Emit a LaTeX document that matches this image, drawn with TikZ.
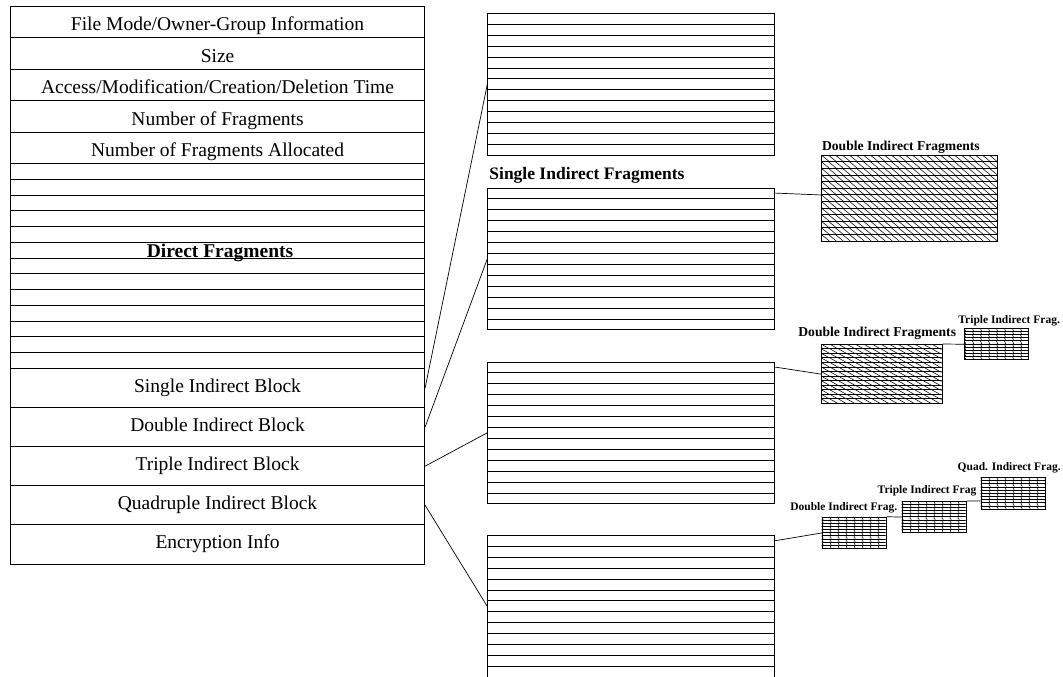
\documentclass[tikz,border=0pt]{standalone}
\usepackage{fontspec}
\setmainfont{Liberation Serif}
\usetikzlibrary{calc}

% rows x spacing hatching inside a fragment box given by its numbers
% #1,#2 top-left; #3,#4 width,height; #5 rows; #6 column step; #7 slant
\newcommand{\hatchgrid}[7]{%
  \begin{scope}
    \clip (#1,#2) rectangle ++(#3,#4);
    \foreach \r in {1,...,#5}{
      \pgfmathsetmacro{\yt}{#2+(\r-1)*#4/#5}
      \pgfmathsetmacro{\yb}{#2+\r*#4/#5}
      \draw[hatch] (#1,\yb) -- ++(#3,0);
      \foreach \xx in {-#6,0,...,#3}{
        \draw[hatch] ({#1+\xx},\yt) -- ({#1+\xx+#7},\yb);
      }
    }
  \end{scope}}

\begin{document}
\begin{tikzpicture}[x=1pt,y=-1pt,
  line width=0.8pt,
  cell/.style={draw, rectangle, inner sep=0pt, minimum width=414.3pt, anchor=north west},
  hdrcell/.style={cell, minimum height=31.5pt, font=\fontsize{19.5}{20}\selectfont,
                  text height=18pt, text depth=0pt},
  dircell/.style={cell, minimum height=15.75pt},
  ptrcell/.style={cell, minimum height=39.1pt, font=\fontsize{19.5}{20}\selectfont,
                  text height=13pt, text depth=4.5pt},
  blk/.style={draw, rectangle, inner sep=0pt, minimum width=287pt, minimum height=141.3pt,
              anchor=north west, line width=0.9pt},
  fragbox/.style={draw, rectangle, inner sep=0pt, anchor=north west, line width=0.9pt},
  hatch/.style={line width=0.55pt},
  link/.style={line width=0.7pt},
  biglbl/.style={anchor=base west, inner sep=0pt, font=\bfseries\fontsize{17.5}{18}\selectfont},
  midlbl/.style={anchor=base west, inner sep=0pt, font=\bfseries\fontsize{13.6}{14}\selectfont},
  smalllbl/.style={anchor=base west, inner sep=0pt, font=\bfseries\fontsize{11.5}{12}\selectfont}]

\useasboundingbox (0,0) rectangle (1063,677);

% ---------------- inode table ----------------
\node[hdrcell] (mode)   at (10,5.7)   {File Mode/Owner-Group Information};
\node[hdrcell] (size)   at (10,37.2)  {Size};
\node[hdrcell] (time)   at (10,68.7)  {Access/Modification/Creation/Deletion Time};
\node[hdrcell] (nfrag)  at (10,100.2) {Number of Fragments};
\node[hdrcell] (nalloc) at (10,131.7) {Number of Fragments Allocated};
\foreach \k in {0,...,12}
  \node[dircell] (d\k) at (10,{163.2+15.75*\k}) {};
\node[anchor=base, inner sep=0pt, font=\bfseries\fontsize{19.5}{20}\selectfont]
  (dlabel) at (220,257.5) {Direct Fragments};
\node[ptrcell] (single) at (10,368.0) {Single Indirect Block};
\node[ptrcell] (double) at (10,407.1) {Double Indirect Block};
\node[ptrcell] (triple) at (10,446.2) {Triple Indirect Block};
\node[ptrcell] (quad)   at (10,485.3) {Quadruple Indirect Block};
\node[ptrcell] (crypt)  at (10,524.4) {Encryption Info};

% ---------------- indirect blocks ----------------
\node[blk] (b1) at (487.3,13.3)  {};
\node[blk] (b2) at (487.3,187.7) {};
\node[blk] (b3) at (487.3,361.7) {};
\node[blk] (b4) at (487.3,535.3) {};
\foreach \b in {b1,b2,b3,b4}
  \foreach \k in {1,...,12}
    \draw[line width=0.9pt] ($(\b.north west)!\k/13!(\b.south west)$) --
                            ($(\b.north east)!\k/13!(\b.south east)$);
\node[biglbl] (l2) at (489,179) {Single Indirect Fragments};

% ---------------- fragment boxes ----------------
\hatchgrid{821.3}{155}{176}{86}{13}{7}{8}
\node[fragbox, minimum width=176pt, minimum height=86pt] (h1) at (821.3,155) {};
\node[midlbl] (l3) at (821.7,150.7) {Double Indirect Fragments};

\hatchgrid{821}{344}{120.7}{59.3}{13}{8.5}{8}
\node[fragbox, minimum width=120.7pt, minimum height=59.3pt] (h2) at (821,344) {};
\node[midlbl] (l4) at (798,336) {Double Indirect Fragments};

\hatchgrid{964.3}{328.3}{64}{31}{10}{8}{1.5}
\node[fragbox, minimum width=64pt, minimum height=31pt] (h3) at (964.3,328.3) {};
\node[smalllbl] (l5) at (958,323) {Triple Indirect Frag.};

\hatchgrid{821.7}{516.7}{64}{31.6}{10}{8}{1.5}
\node[fragbox, minimum width=64pt, minimum height=31.6pt] (h4) at (821.7,516.7) {};
\node[smalllbl] (l6) at (790,510) {Double Indirect Frag.};

\hatchgrid{901.7}{501}{64}{31.3}{10}{8}{1.5}
\node[fragbox, minimum width=64pt, minimum height=31.3pt] (h5) at (901.7,501) {};
\node[smalllbl] (l7) at (877.3,493) {Triple Indirect Frag};

\hatchgrid{980.7}{477.3}{64.3}{31.7}{10}{8}{1.5}
\node[fragbox, minimum width=64.3pt, minimum height=31.7pt] (h6) at (980.7,477.3) {};
\node[smalllbl] (l8) at (957.3,470.5) {Quad. Indirect Frag.};

% ---------------- pointers ----------------
\draw[link] (single.east) -- (b1.west);
\draw[link] (double.east) -- (b2.west);
\draw[link] (triple.east) -- (b3.west);
\draw[link] (quad.east)   -- (b4.west);

\draw[link] ($(b2.north east)+(0,5.4)$) -- ($(h1.north west)!0.46!(h1.south west)$);
\draw[link] ($(b3.north east)+(0,5.4)$) -- (h2.west);
\draw[link] ($(b4.north east)+(0,5.4)$) -- (h4.west);
\draw[link] (h2.north east) -- (h3.west);
\draw[link] (h4.north east) -- (h5.west);
\draw[link] (h5.north east) -- ($(h6.north west)!0.73!(h6.south west)$);
\end{tikzpicture}
\end{document}
